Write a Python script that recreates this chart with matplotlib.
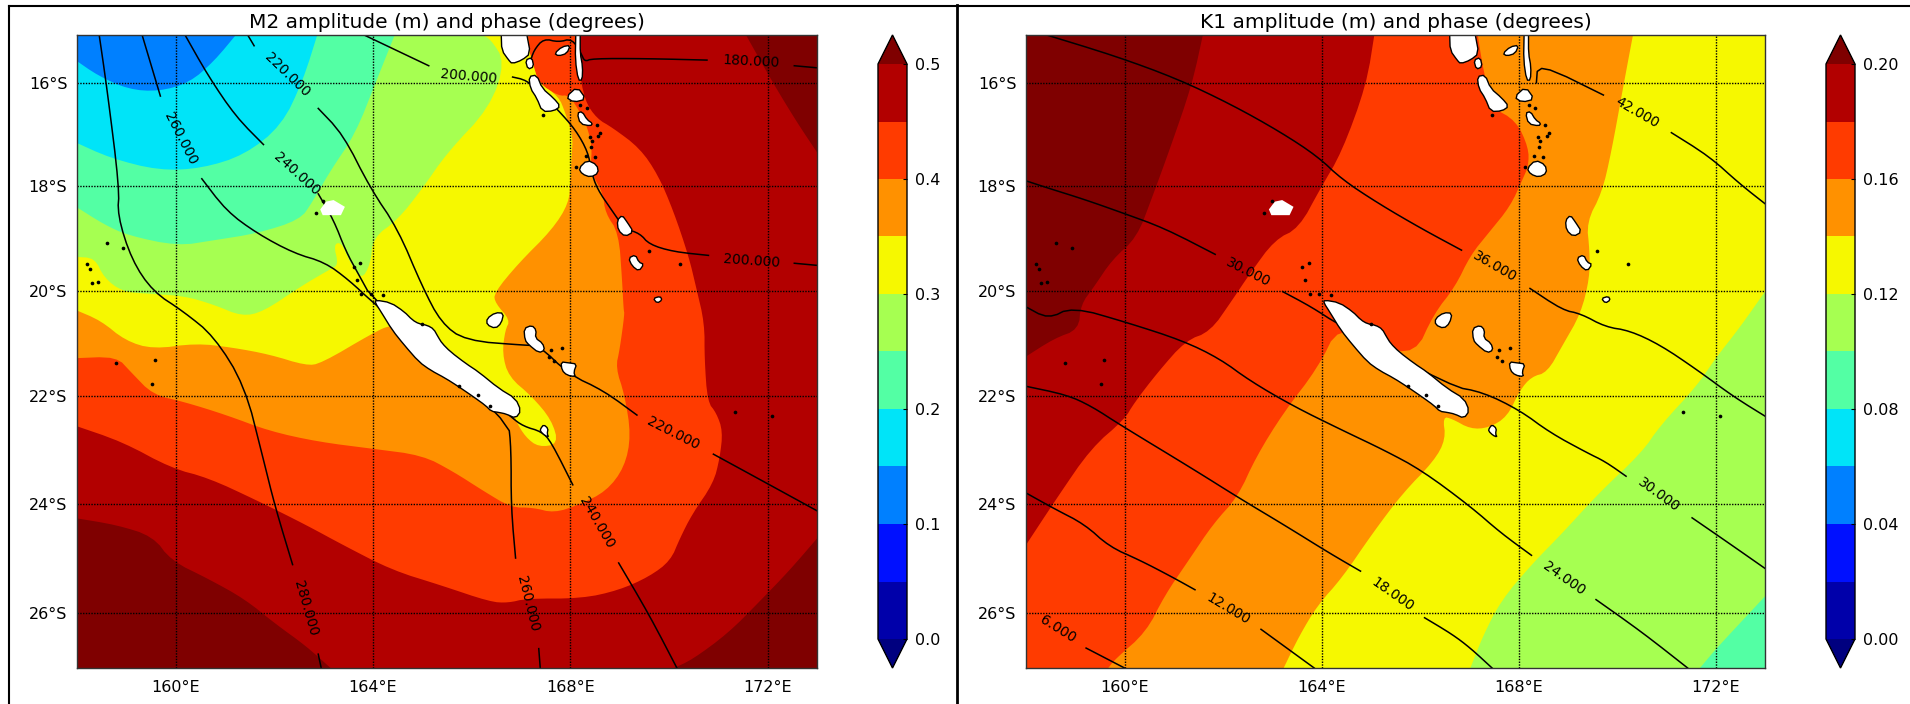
import numpy as np
import matplotlib
matplotlib.use("Agg")
import matplotlib.pyplot as plt
from matplotlib.colors import ListedColormap, BoundaryNorm
from matplotlib.cm import ScalarMappable
from matplotlib.lines import Line2D

# ---------- band colours ----------
band_colors = ['#0000aa', '#0010ff', '#0080ff', '#00e4f8', '#53ffa4',
               '#a6ff51', '#f6f800', '#ff9100', '#ff3b00', '#b20000']
under_color = '#00007f'
over_color = '#7f0000'
m2_levels = [0, .05, .1, .15, .2, .25, .3, .35, .4, .45, .5]
k1_levels = [0, .02, .04, .06, .08, .1, .12, .14, .16, .18, .2]
m2_cticks = [0, .1, .2, .3, .4, .5]
k1_cticks = [0, .04, .08, .12, .16, .2]
lon_ticks = [160, 164, 168, 172]
lat_ticks = [-16, -18, -20, -22, -24, -26]
lon_range = (158, 173)
lat_range = (-27, -15.07)

# ---------- M2 amplitude regions, read as lon/lat band boundaries ----------
m2_over_ne = [(171.56,-15.07),(172.08,-15.96),(172.58,-16.75),(173,-17.35),(173,-15.07)]
m2_over_sw = [(158,-24.27),(158.8,-24.39),(159.54,-24.6),(159.91,-25.05),(160.66,-25.38),(161.4,-25.75),
              (162.02,-26.2),(162.64,-26.6),(163.14,-27),(158,-27)]
m2_over_se = [(173,-24.64),(172.45,-25.22),(171.83,-25.8),(171.2,-26.37),(170.47,-26.85),(170.1,-27),(173,-27)]
m2_lt_045 = [(158,-22.56),(158.92,-22.85),(159.91,-23.34),(160.66,-23.52),(161.65,-23.94),(162.64,-24.39),
             (163.39,-24.76),(164.38,-25.22),(165.38,-25.5),(166.37,-25.8),(166.74,-25.82),(167.11,-25.74),
             (168.23,-25.74),(168.98,-25.59),(169.6,-25.34),(170.03,-25.05),(170.22,-24.64),(170.47,-24.19),
             (170.9,-23.62),(171.03,-23.15),(171.09,-22.65),(170.96,-22.31),(170.78,-22.1),(170.72,-21.3),
             (170.72,-20.62),(170.55,-19.94),(170.4,-19.35),(170.09,-18.48),(169.78,-17.79),(169.41,-17.27),
             (168.85,-16.87),(168.54,-16.7),(168.29,-16.35),(168.17,-15.67),(168.17,-15.07),(158,-15.07)]
m2_lt_040 = [(158,-21.28),(158.8,-21.25),(159.1,-21.55),(159.54,-21.97),(160.16,-22.1),(161.03,-22.35),
             (161.9,-22.65),(162.89,-22.85),(164,-22.98),(165,-23.1),(165.62,-23.4),(166.25,-23.77),
             (166.8,-24.07),(167.24,-24.07),(167.67,-24.17),(168.17,-24.02),(168.73,-23.77),(169.1,-23.32),
             (169.23,-22.73),(169.1,-21.97),(168.92,-21.46),(169.0,-21.12),(169.1,-20.44),(169.08,-20.37),
             (169.05,-19.81),(168.98,-18.9),(168.71,-18.52),(168.66,-18.14),(168.47,-17.82),(168.41,-17.63),
             (168.44,-17.24),(168.34,-16.85),(168.17,-16.53),(167.97,-16.24),(167.76,-16.26),(167.36,-16.01),
             (167.26,-15.69),(167.16,-15.37),(167.14,-15.07),(158,-15.07)]
m2_lt_035 = [(158,-20.38),(158.48,-20.57),(158.98,-20.95),(159.54,-21.11),(160.41,-21.0),(161.15,-21.08),
             (161.9,-21.21),(162.64,-21.42),(162.95,-21.38),(163.99,-20.81),(164.36,-20.65),(164.66,-20.74),
             (165.6,-21.63),(166.89,-22.38),(166.89,-22.45),(167.09,-22.76),(167.36,-22.95),(167.76,-22.89),
             (167.62,-22.44),(167.22,-22.0),(166.75,-21.63),(166.62,-21.19),(166.68,-20.75),(166.78,-20.56),
             (166.48,-20.24),(166.45,-20.05),(166.95,-19.48),(167.63,-18.84),(167.97,-18.33),(168,-17.9),
             (168.03,-17.37),(168.05,-17.05),(167.9,-16.59),(167.76,-16.26),(167.36,-16.01),(167.26,-15.69),
             (167.16,-15.37),(167.14,-15.07),(158,-15.07)]
m2_lt_030 = [(158,-19.36),(158.36,-19.38),(158.55,-19.76),(158.92,-20.02),(159.42,-20.06),(160.16,-20.1),
             (160.78,-20.27),(161.34,-20.49),(161.78,-20.4),(162.52,-19.93),(163.14,-19.59),(163.3,-19.51),
             (163.2,-19.12),(163.36,-19.08),(163.51,-19.42),(163.76,-19.8),(163.95,-19.5),(164.0,-18.99),
             (164.5,-18.65),(165.0,-18.05),(165.5,-17.36),(166.37,-16.48),(166.68,-15.6),(166.37,-15.13),
             (166.18,-15.07),(158,-15.07)]
m2_lt_025 = [(158,-18.41),(158.55,-18.74),(159.04,-18.95),(160.04,-19.15),(160.78,-19.04),(161.65,-18.91),
             (162.52,-18.65),(162.77,-18.31),(163.14,-17.7),(163.64,-17.0),(164.07,-15.96),(164.44,-15.07),(158,-15.07)]
m2_lt_020 = [(158,-17.17),(158.67,-17.46),(159.66,-17.7),(160.53,-17.66),(161.4,-17.4),(162.15,-16.83),
             (162.58,-15.96),(162.87,-15.07),(158,-15.07)]
m2_lt_015 = [(158,-15.58),(158.42,-15.86),(159.04,-16.13),(159.66,-16.17),(160.28,-16),(160.78,-15.58),
             (161.22,-15.07),(158,-15.07)]

# ---------- K1 amplitude regions ----------
k1_ge_020 = [(161.59,-15.07),(161.37,-16.04),(160.93,-17.26),(160.56,-18.22),(160.25,-18.99),(159.75,-19.41),
             (159.38,-19.93),(159.11,-20.27),(159.07,-20.74),(158.57,-20.91),(158,-21.25),(158,-15.07)]
k1_ge_018 = [(165.07,-15.07),(164.91,-16.04),(164.41,-17.35),(163.98,-18.04),(163.54,-18.81),(163.05,-19.03),
             (162.55,-19.67),(162.18,-20.19),(161.74,-20.78),(161.24,-20.95),(160.68,-21.54),(160.19,-22.13),
             (160,-22.43),(159.32,-22.97),(158.63,-23.89),(158,-24.76),(158,-15.07)]
k1_ge_016 = [(167.17,-15.07),(167.27,-15.69),(167.46,-16.48),(167.95,-16.74),(168.2,-17.26),(168.2,-17.61),
             (168.08,-17.87),(167.83,-18.39),(167.39,-18.9),(167.02,-19.33),(166.71,-19.93),(166.28,-20.44),
             (165.9,-21.21),(165.16,-21.05),(164.35,-20.66),(163.92,-21.47),(163.23,-22.3),(162.67,-23.13),
             (162.3,-23.87),(161.8,-24.37),(161.31,-25.03),(160.81,-25.69),(160.44,-26.35),(159.81,-26.84),
             (159.67,-27),(158,-27),(158,-15.07)]
k1_ge_014 = [(170.32,-15.07),(170.13,-16.04),(169.88,-17.35),(169.69,-18.13),(169.38,-18.69),(169.44,-19.24),
             (169.44,-19.76),(169.26,-20.44),(168.89,-21.04),(168.58,-21.55),(168.26,-21.63),(168.02,-21.89),
             (167.77,-22.38),(167.39,-22.59),(167.02,-22.61),(166.65,-22.42),(166.46,-22.38),(166.52,-22.8),
             (166.28,-23.21),(165.65,-23.8),(165.03,-24.55),(164.41,-25.37),(163.92,-25.86),(163.54,-26.43),
             (163.23,-27),(158,-27),(158,-15.07)]
k1_ge_012 = [(173,-20.02),(172.49,-20.7),(171.99,-21.29),(171.62,-21.8),(170.87,-22.55),(170.5,-23.05),
             (169.63,-23.8),(168.89,-24.54),(168.26,-25.12),(167.64,-25.78),(167.27,-26.43),(167.02,-27),
             (158,-27),(158,-15.07),(173,-15.07)]
k1_ge_010 = [(173,-25.7),(172.49,-26.19),(171.99,-26.67),(171.68,-27),(158,-27),(158,-15.07),(173,-15.07)]

# ---------- M2 phase lines (segments break where the labels sit) ----------
m2_phase_lines = [
    [(173,-15.71),(172.54,-15.67)],
    [(170.77,-15.56),(169.52,-15.53),(168.44,-15.53),(168.29,-15.59),(168.22,-15.43),(168.03,-15.14),
     (167.76,-15.21),(167.46,-15.14),(167.26,-15.37),(167.19,-15.59)],
    [(163.82,-15.07),(165.13,-15.67)],
    [(166.83,-15.89),(167.11,-15.95),(167.42,-16.22),(167.74,-16.52),(168.11,-16.92),(168.36,-17.35),
     (168.42,-17.7),(168.54,-18.05),(168.85,-18.48),(169.1,-18.82),(169.41,-18.91),(169.6,-19.12),
     (170.09,-19.26),(170.8,-19.33)],
    [(172.54,-19.48),(173,-19.52)],
    [(161.46,-15.07),(161.59,-15.28)],
    [(162.89,-16.5),(163.39,-17.0),(163.95,-18.05),(164.5,-18.82),(165,-19.93),(165.38,-20.61),
     (165.87,-20.95),(167.11,-21.04),(167.36,-21.04),(167.98,-21.59),(168.67,-21.89),(169.35,-22.35)],
    [(170.9,-23.08),(171.96,-23.61),(173,-24.13)],
    [(160.19,-15.07),(160.66,-15.87),(161.22,-16.66),(161.78,-17.2)],
    [(162.89,-18.15),(163.2,-18.65),(163.45,-19.25),(163.7,-19.68),(164,-20.19),(166.8,-22.39),
     (167.05,-22.56),(167.42,-22.66),(167.61,-22.85),(168.05,-23.65)],
    [(168.98,-25.09),(169.6,-26.04),(170.16,-27)],
    [(159.32,-15.07),(159.69,-16.26)],
    [(160.53,-17.86),(161.03,-18.48),(161.65,-18.91),(162.4,-19.29),(163.02,-19.46),(163.51,-19.8),
     (164,-20.23),(166.74,-22.44),(166.8,-22.98),(166.8,-24.07),(166.89,-25.0)],
    [(167.36,-26.65),(167.39,-27)],
    [(158.45,-15.07),(158.61,-16.13),(158.86,-18.05),(158.82,-18.56),(159.11,-19.42),(159.54,-20.02),
     (160.16,-20.4),(160.78,-20.87),(161.4,-21.8),(161.77,-23.15),(162.02,-24.07),(162.37,-25.12)],
    [(162.89,-26.75),(162.95,-27)],
]
m2_phase_labels = ['180.000', '200.000', '220.000', '260.000', '240.000',
                   '200.000', '220.000', '240.000', '260.000', '280.000']
m2_label_lon = [171.67, 165.93, 162.27, 160.1, 162.46, 171.67, 170.09, 168.54, 167.14, 162.64]
m2_label_lat = [-15.59, -15.87, -15.85, -17.08, -17.77, -19.43, -22.69, -24.35, -25.83, -25.92]
m2_label_rot = [-3, -5, -44, -63, -42, -4, -27, -60, -76, -74]

# ---------- K1 phase lines ----------
k1_phase_lines = [
    [(159.22,-26.64),(160,-27)],
    [(158,-23.8),(158.57,-24.09),(159.19,-24.38),(159.69,-24.79),(160.31,-25.04),(160.93,-25.33),(161.43,-25.58)],
    [(162.77,-26.3),(163.85,-27)],
    [(158,-21.81),(158.82,-21.97),(159.32,-22.18),(159.94,-22.55),(161.43,-23.38),(162.3,-23.88),
     (163.29,-24.42),(164.16,-24.91),(164.79,-25.24)],
    [(166.09,-26.09),(166.65,-26.39),(167.02,-26.64),(167.46,-27)],
    [(158,-20.31),(158.45,-20.54),(158.94,-20.31),(160.06,-20.61),(161.18,-20.95),(161.93,-21.29),
     (162.55,-21.71),(163.42,-22.18),(164.41,-22.63),(165.28,-23.01),(166.03,-23.38),(167.02,-24.05),
     (167.64,-24.54),(168.26,-24.95)],
    [(169.57,-25.76),(170.5,-26.35),(171.43,-27)],
    [(158,-17.9),(158.45,-18.04),(159.19,-18.26),(159.94,-18.51),(160.81,-18.81),(161.84,-19.31)],
    [(163.21,-20.02),(163.79,-20.31),(164.35,-20.65),(166.62,-21.81),(167.27,-21.92),(168.02,-22.26),
     (168.64,-22.68),(169.38,-23.05),(169.76,-23.22),(170.18,-23.49)],
    [(171.52,-24.26),(172.24,-24.71),(173,-25.19)],
    [(158.42,-15.07),(159.81,-15.48),(161.06,-15.92),(162.18,-16.43),(163.17,-16.96),(163.92,-17.43),
     (164.41,-17.87),(165.16,-18.34),(166.03,-18.82),(166.84,-19.23)],
    [(168.23,-19.96),(168.89,-20.37),(169.26,-20.44),(169.76,-20.69),(170.25,-20.76),(170.87,-21.03),
     (171.62,-21.5),(172.37,-22.01),(173,-22.37)],
    [(168.36,-16),(168.39,-15.61),(169.72,-16.24)],
    [(171.1,-16.97),(171.87,-17.43),(172.49,-17.96),(173,-18.34)],
]
k1_phase_labels = ['6.000', '12.000', '18.000', '24.000', '30.000', '30.000', '36.000', '42.000']
k1_label_lon = [158.65, 162.11, 165.43, 168.92, 162.51, 170.85, 167.52, 170.41]
k1_label_lat = [-26.3, -25.93, -25.67, -25.37, -19.66, -23.83, -19.54, -16.59]
k1_label_rot = [-32, -31, -35, -35, -27, -36, -30, -30]

# ---------- islands ----------
islands = [
    [(164.05,-20.18),(164.36,-20.23),(164.63,-20.4),(164.8,-20.56),(164.93,-20.63),(165.1,-20.66),(165.23,-20.73),
     (165.32,-20.88),(165.4,-21.0),(165.57,-21.16),(165.88,-21.38),(166.14,-21.54),(166.55,-21.85),(166.89,-22.04),
     (167.0,-22.27),(166.89,-22.41),(166.7,-22.33),(166.55,-22.3),(166.4,-22.28),(166.28,-22.17),(166.04,-22.01),
     (165.74,-21.82),(165.47,-21.66),(165.17,-21.51),(164.93,-21.35),(164.63,-21.03),(164.39,-20.75),(164.16,-20.4),(164.05,-20.24)],
    [(166.31,-20.53),(166.48,-20.42),(166.65,-20.43),(166.6,-20.62),(166.48,-20.72),(166.31,-20.65)],
    [(167.06,-20.72),(167.22,-20.66),(167.31,-20.75),(167.29,-20.9),(167.44,-21.0),(167.48,-21.13),(167.36,-21.18),
     (167.16,-21.03),(167.08,-20.94)],
    [(167.81,-21.35),(167.97,-21.37),(168.13,-21.39),(168.07,-21.54),(168.1,-21.63),(167.93,-21.6),(167.83,-21.51)],
    [(167.4,-22.6),(167.46,-22.53),(167.55,-22.6),(167.53,-22.7),(167.56,-22.76),(167.48,-22.73),(167.39,-22.65)],
    [(166.6,-15.07),(167.12,-15.07),(167.19,-15.43),(167.02,-15.56),(166.82,-15.63),(166.75,-15.56),(166.61,-15.37)],
    [(167.68,-15.43),(167.83,-15.3),(168.0,-15.27),(167.93,-15.43),(167.76,-15.48)],
    [(168.11,-15.07),(168.2,-15.07),(168.2,-15.43),(168.25,-15.69),(168.24,-15.95),(168.16,-15.95),(168.1,-15.56)],
    [(167.16,-15.88),(167.32,-15.85),(167.43,-16.11),(167.66,-16.3),(167.8,-16.46),(167.66,-16.55),(167.43,-16.56),
     (167.32,-16.3),(167.19,-16.11)],
    [(167.09,-15.56),(167.22,-15.51),(167.26,-15.69),(167.14,-15.74)],
    [(167.91,-16.28),(168.14,-16.08),(168.32,-16.32),(168.07,-16.38)],
    [(168.14,-16.59),(168.24,-16.56),(168.34,-16.72),(168.45,-16.79),(168.41,-16.84),(168.2,-16.8)],
    [(168.17,-17.66),(168.34,-17.5),(168.54,-17.59),(168.57,-17.75),(168.41,-17.83),(168.24,-17.77)],
    [(168.95,-18.66),(169.05,-18.56),(169.15,-18.69),(169.28,-18.88),(169.11,-18.97),(168.97,-18.85)],
    [(169.18,-19.38),(169.32,-19.32),(169.39,-19.46),(169.49,-19.5),(169.39,-19.63),(169.25,-19.53)],
    [(169.68,-20.15),(169.82,-20.11),(169.86,-20.18),(169.76,-20.24)],
]
reef = [(162.93,-18.45),(163.05,-18.3),(163.2,-18.27),(163.43,-18.4),(163.35,-18.56),(162.98,-18.56)]
islet_lon = [158.6,158.93,158.21,158.27,158.3,158.42,158.79,159.59,159.53,171.33,172.08,162.84,162.99,163.74,163.61,163.67,
             163.76,163.95,164.2,165.0,169.6,170.22,165.75,166.12,166.37,167.61,167.83,167.57,167.67,
             168.2,168.34,168.54,168.61,168.57,168.39,168.44,168.42,168.32,168.49,168.12,167.45]
islet_lat = [-19.1,-19.18,-19.5,-19.59,-19.85,-19.83,-21.38,-21.32,-21.77,-22.29,-22.37,-18.52,-18.28,-19.48,-19.55,-19.8,
             -20.06,-20.06,-20.09,-20.63,-19.25,-19.5,-21.8,-21.97,-22.18,-21.12,-21.08,-21.25,-21.33,
             -16.43,-16.5,-16.82,-16.98,-17.03,-17.06,-17.14,-17.24,-17.43,-17.45,-17.63,-16.63]


def merc(lat):
    return np.degrees(np.log(np.tan(np.radians(45 + np.asarray(lat) / 2))))


def merc_inv(y):
    return 2 * np.degrees(np.arctan(np.exp(np.radians(np.asarray(y))))) - 90


def round_corners(pts, closed=False, passes=2):
    """Corner-cutting for drawing only; points on the map frame and line ends stay put."""
    def pinned(p):
        return p[0] in lon_range or p[1] in lat_range
    pts = list(pts)
    for _ in range(passes):
        seq = pts + [pts[0]] if closed else pts
        ends = (seq[0], seq[-1]) if not closed else ()
        out = []
        for a, b in zip(seq[:-1], seq[1:]):
            if pinned(a) or a in ends:
                if not out or out[-1] != a:
                    out.append(a)
            else:
                out.append((.75 * a[0] + .25 * b[0], .75 * a[1] + .25 * b[1]))
            if pinned(b) or b in ends:
                if b != (seq[0] if closed else None):
                    out.append(b)
            else:
                out.append((.25 * a[0] + .75 * b[0], .25 * a[1] + .75 * b[1]))
        pts = out
    return pts


W, H = 1910, 704
fig = plt.figure(figsize=(W / 100, H / 100), dpi=100)
fig.patch.set_facecolor('white')


def panel(x0, x1, cx0, cx1, title, base, regions, lines, lab_txt, lab_lon, lab_lat, lab_rot, levels, cticks, cfmt):
    y0, y1 = 35, 668
    ax = fig.add_axes([x0 / W, 1 - y1 / H, (x1 - x0) / W, (y1 - y0) / H])
    ax.set_yscale('function', functions=(merc, merc_inv))
    ax.set_facecolor(base)
    for i, (pts, col) in enumerate(regions):
        xs, ys = zip(*round_corners(pts, closed=True))
        ax.fill(xs, ys, color=col, lw=0, zorder=1 + i * 0.01)
    for seg in lines:
        xs, ys = zip(*round_corners(seg))
        ax.plot(xs, ys, color='black', lw=1.1, zorder=3, solid_joinstyle='round')
    for t, lo, la, r in zip(lab_txt, lab_lon, lab_lat, lab_rot):
        ax.text(lo, la, t, rotation=r, rotation_mode='anchor', ha='center', va='center', fontsize=10,
                color='black', zorder=3.5)
    ax.set_xlim(*lon_range)
    ax.set_ylim(*lat_range)
    ax.set_xticks(lon_ticks)
    ax.set_xticklabels([f'{v}°E' for v in lon_ticks])
    ax.set_yticks(lat_ticks)
    ax.set_yticklabels([f'{-v}°S' for v in lat_ticks])
    ax.minorticks_off()
    ax.tick_params(length=0, labelsize=11.5)
    ax.tick_params(axis='x', pad=9)
    ax.tick_params(axis='y', pad=7)
    ax.grid(True, color='black', lw=1, linestyle=(0, (1, 1)), zorder=4)
    ax.set_axisbelow(False)
    for pts in islands:
        xs, ys = zip(*round_corners(pts, closed=True, passes=1))
        ax.fill(xs, ys, facecolor='white', edgecolor='black', lw=1.0, zorder=5)
    xs, ys = zip(*reef)
    ax.fill(xs, ys, facecolor='white', edgecolor='none', zorder=5)
    ax.scatter(islet_lon, islet_lat, s=7, color='black', lw=0, zorder=6)
    ax.set_title(title, fontsize=14.5, pad=5)
    for s in ax.spines.values():
        s.set_linewidth(1)
        s.set_color('#333333')
        s.set_zorder(7)

    cax = fig.add_axes([cx0 / W, 1 - y1 / H, (cx1 - cx0) / W, (y1 - y0) / H])
    cmap = ListedColormap(band_colors)
    cmap.set_under(under_color)
    cmap.set_over(over_color)
    norm = BoundaryNorm(levels, cmap.N)
    cb = fig.colorbar(ScalarMappable(norm=norm, cmap=cmap), cax=cax, extend='both', extendfrac=29 / 575,
                      spacing='uniform', ticks=cticks, drawedges=False)
    cb.ax.set_yticklabels([cfmt % v for v in cticks])
    cb.ax.tick_params(length=3, direction='in', labelsize=11.5, pad=6, width=0.8)
    cb.ax.minorticks_off()
    cb.outline.set_linewidth(1)
    return ax


panel(77, 817, 878, 907, 'M2 amplitude (m) and phase (degrees)', band_colors[9],
      [(m2_over_ne, over_color), (m2_over_sw, over_color), (m2_over_se, over_color),
       (m2_lt_045, band_colors[8]), (m2_lt_040, band_colors[7]), (m2_lt_035, band_colors[6]),
       (m2_lt_030, band_colors[5]), (m2_lt_025, band_colors[4]), (m2_lt_020, band_colors[3]),
       (m2_lt_015, band_colors[2])],
      m2_phase_lines, m2_phase_labels, m2_label_lon, m2_label_lat, m2_label_rot, m2_levels, m2_cticks, '%.1f')

panel(1026, 1765, 1826, 1855, 'K1 amplitude (m) and phase (degrees)', band_colors[4],
      [(k1_ge_010, band_colors[5]), (k1_ge_012, band_colors[6]), (k1_ge_014, band_colors[7]),
       (k1_ge_016, band_colors[8]), (k1_ge_018, band_colors[9]), (k1_ge_020, over_color)],
      k1_phase_lines, k1_phase_labels, k1_label_lon, k1_label_lat, k1_label_rot, k1_levels, k1_cticks, '%.2f')

# thin frames left over from the two source panels
for xs, ys, lw in [([9, 958], [5.5, 5.5], 1.5), ([9, 9], [5.5, 704], 1.5), ([957, 957], [5, 704], 2),
                   ([957, 1910], [5.5, 5.5], 1.5)]:
    fig.add_artist(Line2D([x / W for x in xs], [1 - y / H for y in ys], color='black', lw=lw))

fig.savefig('out.png', dpi=100)
